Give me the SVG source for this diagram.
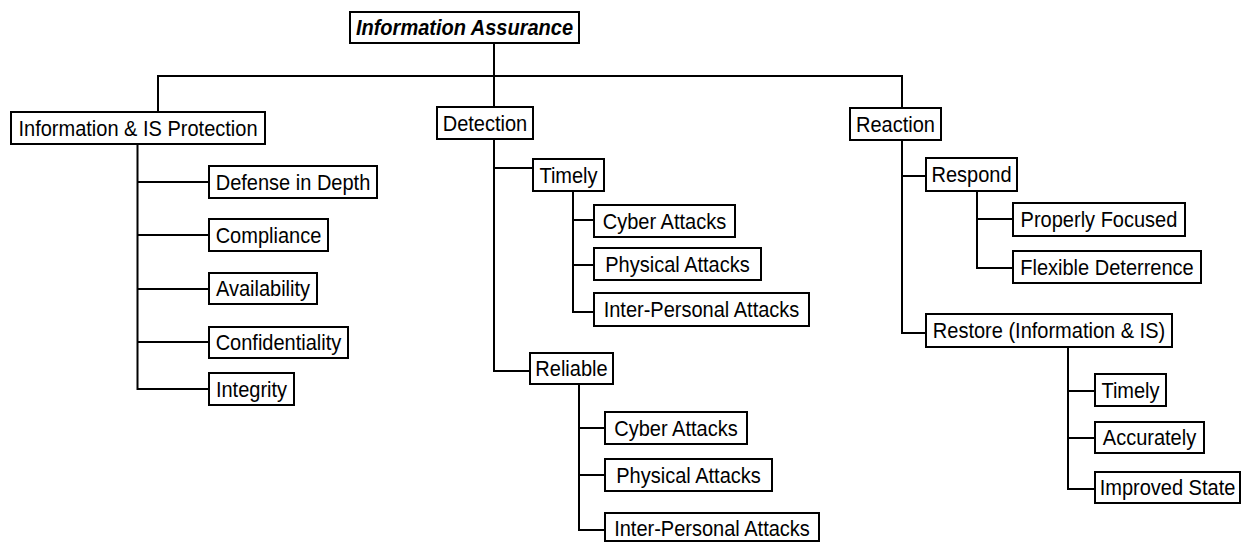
<svg xmlns="http://www.w3.org/2000/svg" width="1241" height="542" viewBox="0 0 1241 542">
<style>
  rect.box { fill: #ffffff; stroke: #000000; stroke-width: 2; }
  text { font-family: "Liberation Sans", Arial, sans-serif; font-size: 22px; fill: #000000; text-anchor: middle; }
  text.root { font-weight: bold; font-style: italic; }
  .conn path { fill: none; stroke: #000000; stroke-width: 2; }
</style>
<rect x="0" y="0" width="1241" height="542" fill="#ffffff"/>
<g id="connectors" class="conn">
  <path d="M494 43 V107"/>
  <path d="M158 112 V76 H902 V108"/>
  <path d="M137.5 144 V389 H209"/>
  <path d="M137.5 182 H209 M137.5 235 H209 M137.5 289 H209 M137.5 342 H209"/>
  <path d="M494 139 V371 H530"/>
  <path d="M494 168 H533"/>
  <path d="M573 191 V312 H594 M573 220 H594 M573 265 H594"/>
  <path d="M579 384 V530 H605 M579 428 H605 M579 475 H605"/>
  <path d="M902 140 V333 H926 M902 176 H926"/>
  <path d="M977 191 V268 H1013 M977 219 H1013"/>
  <path d="M1068 347 V489 H1095 M1068 391 H1095 M1068 438 H1095"/>
</g>
<g id="n-root"><rect class="box" x="350" y="12" width="229" height="31"/><text class="root" transform="scale(0.91 1)" x="510.44" y="35.3">Information Assurance</text></g>
<g id="n-protection"><rect class="box" x="11" y="112" width="254" height="32"/><text transform="scale(0.91 1)" x="151.65" y="135.8">Information &amp; IS Protection</text></g>
<g id="n-detection"><rect class="box" x="437" y="107" width="96" height="32"/><text transform="scale(0.91 1)" x="532.97" y="130.8">Detection</text></g>
<g id="n-reaction"><rect class="box" x="850" y="108" width="91" height="32"/><text transform="scale(0.91 1)" x="984.07" y="131.8">Reaction</text></g>
<g id="n-defense"><rect class="box" x="209" y="166" width="168" height="32"/><text transform="scale(0.91 1)" x="321.98" y="189.8">Defense in Depth</text></g>
<g id="n-compliance"><rect class="box" x="209" y="219" width="119" height="32"/><text transform="scale(0.91 1)" x="295.05" y="242.8">Compliance</text></g>
<g id="n-availability"><rect class="box" x="209" y="273" width="108" height="31"/><text transform="scale(0.91 1)" x="289.01" y="296.3">Availability</text></g>
<g id="n-confidentiality"><rect class="box" x="209" y="327" width="139" height="31"/><text transform="scale(0.91 1)" x="306.04" y="350.3">Confidentiality</text></g>
<g id="n-integrity"><rect class="box" x="209" y="373" width="85" height="32"/><text transform="scale(0.91 1)" x="276.37" y="396.8">Integrity</text></g>
<g id="n-det-timely"><rect class="box" x="533" y="159" width="71" height="32"/><text transform="scale(0.91 1)" x="624.73" y="182.8">Timely</text></g>
<g id="n-det-timely-cyber"><rect class="box" x="594" y="205" width="141" height="32"/><text transform="scale(0.91 1)" x="730.22" y="228.8">Cyber Attacks</text></g>
<g id="n-det-timely-physical"><rect class="box" x="594" y="248" width="167" height="32"/><text transform="scale(0.91 1)" x="744.51" y="271.8">Physical Attacks</text></g>
<g id="n-det-timely-inter"><rect class="box" x="594" y="293" width="215" height="33"/><text transform="scale(0.91 1)" x="770.88" y="317.3">Inter-Personal Attacks</text></g>
<g id="n-det-reliable"><rect class="box" x="530" y="353" width="83" height="31"/><text transform="scale(0.91 1)" x="628.02" y="376.3">Reliable</text></g>
<g id="n-det-reliable-cyber"><rect class="box" x="605" y="412" width="142" height="32"/><text transform="scale(0.91 1)" x="742.86" y="435.8">Cyber Attacks</text></g>
<g id="n-det-reliable-physical"><rect class="box" x="605" y="459" width="167" height="32"/><text transform="scale(0.91 1)" x="756.59" y="482.8">Physical Attacks</text></g>
<g id="n-det-reliable-inter"><rect class="box" x="605" y="513" width="214" height="28"/><text transform="scale(0.91 1)" x="782.42" y="536.5">Inter-Personal Attacks</text></g>
<g id="n-respond"><rect class="box" x="926" y="158" width="91" height="33"/><text transform="scale(0.91 1)" x="1067.58" y="182.3">Respond</text></g>
<g id="n-properly"><rect class="box" x="1013" y="203" width="172" height="33"/><text transform="scale(0.91 1)" x="1207.69" y="227.3">Properly Focused</text></g>
<g id="n-flexible"><rect class="box" x="1013" y="251" width="188" height="32"/><text transform="scale(0.91 1)" x="1216.48" y="274.8">Flexible Deterrence</text></g>
<g id="n-restore"><rect class="box" x="926" y="314" width="246" height="33"/><text transform="scale(0.91 1)" x="1152.75" y="338.3">Restore (Information &amp; IS)</text></g>
<g id="n-res-timely"><rect class="box" x="1095" y="374" width="71" height="32"/><text transform="scale(0.91 1)" x="1242.31" y="397.8">Timely</text></g>
<g id="n-res-accurately"><rect class="box" x="1095" y="422" width="109" height="31"/><text transform="scale(0.91 1)" x="1263.19" y="445.3">Accurately</text></g>
<g id="n-res-improved"><rect class="box" x="1095" y="472" width="145" height="31"/><text transform="scale(0.91 1)" x="1282.97" y="495.3">Improved State</text></g>
</svg>
